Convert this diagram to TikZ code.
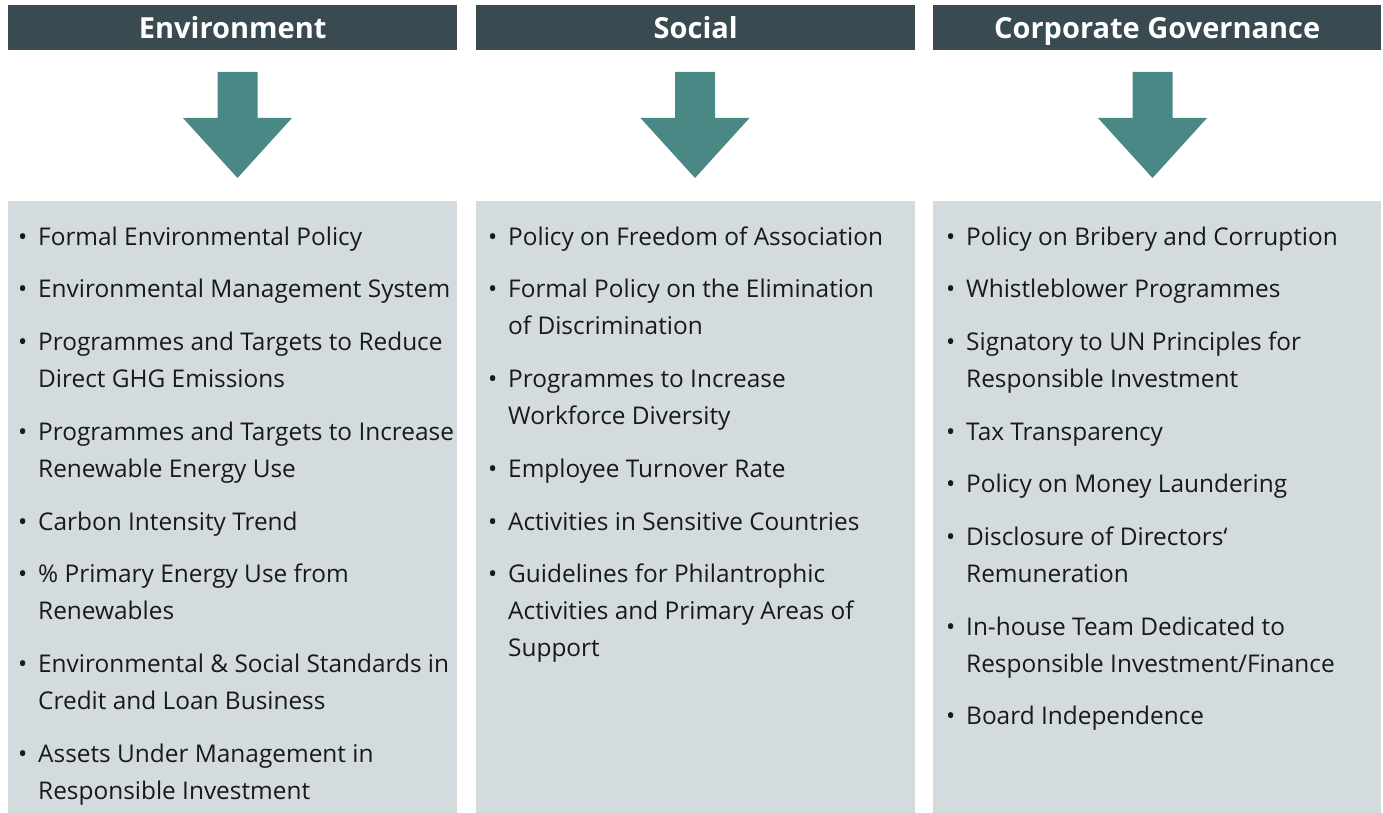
\documentclass[tikz,border=0pt]{standalone}
\usepackage{fontspec}
\setmainfont{Open Sans}
\definecolor{headbg}{HTML}{394B51}
\definecolor{arrowfill}{HTML}{4A8885}
\definecolor{panelbg}{HTML}{D3DBDF}
\tikzset{
  head/.style={fill=headbg, text=white, font=\bfseries\fontsize{29}{32}\selectfont,
    minimum height=45pt, inner sep=0pt, text height=24pt, text depth=2pt, anchor=north west},
  panel/.style={fill=panelbg, minimum height=613pt, inner sep=0pt, anchor=north west},
  item/.style={anchor=base west, align=left, inner sep=0pt, text=black!90,
    font=\fontsize{24.4}{37}\selectfont},
}
\newcommand{\bul}{\hspace*{0pt}\llap{\textbullet\hspace{11pt}}}
\begin{document}
\begin{tikzpicture}[x=1pt,y=-1pt]
  \useasboundingbox (0,0) rectangle (1383,813);
  % headers
  \node[head, minimum width=449pt] (envhead) at (8,5) {Environment};
  \node[head, minimum width=439pt] (sochead) at (476,5) {Social};
  \node[head, minimum width=448pt] (govhead) at (933,5) {Corporate Governance};
  % arrows
  \foreach \cx in {237.5,695,1152.5}
    \fill[arrowfill] (\cx-20,72) -- (\cx+20,72) -- (\cx+20,118) -- (\cx+54.5,118)
      -- (\cx,178) -- (\cx-54.5,118) -- (\cx-20,118) -- cycle;
  % panels
  \node[panel, minimum width=449pt] (envbox) at (8,201) {};
  \node[panel, minimum width=439pt] (socbox) at (476,201) {};
  \node[panel, minimum width=448pt] (govbox) at (933,201) {};
  % environment (anchored at the last line)
  \node[item] (env1) at (38,245) {\bul Formal Environmental Policy};
  \node[item] (env2) at (38,297) {\bul Environmental Management System};
  \node[item] (env3) at (38,387) {\bul Programmes and Targets to Reduce\\Direct GHG Emissions};
  \node[item] (env4) at (38,477) {\bul Programmes and Targets to Increase\\Renewable Energy Use};
  \node[item] (env5) at (38,530) {\bul Carbon Intensity Trend};
  \node[item] (env6) at (38,619) {\bul \% Primary Energy Use from\\Renewables};
  \node[item] (env7) at (38,709) {\bul Environmental \& Social Standards in\\Credit and Loan Business};
  \node[item] (env8) at (38,799) {\bul Assets Under Management in\\Responsible Investment};
  % social
  \node[item] (soc1) at (508,245) {\bul Policy on Freedom of Association};
  \node[item] (soc2) at (508,334) {\bul Formal Policy on the Elimination\\of Discrimination};
  \node[item] (soc3) at (508,424) {\bul Programmes to Increase\\Workforce Diversity};
  \node[item] (soc4) at (508,477) {\bul Employee Turnover Rate};
  \node[item] (soc5) at (508,530) {\bul Activities in Sensitive Countries};
  \node[item] (soc6) at (508,656) {\bul Guidelines for Philantrophic\\Activities and Primary Areas of\\Support};
  % governance
  \node[item] (gov1) at (966,245) {\bul Policy on Bribery and Corruption};
  \node[item] (gov2) at (966,297) {\bul Whistleblower Programmes};
  \node[item] (gov3) at (966,387) {\bul Signatory to UN Principles for\\Responsible Investment};
  \node[item] (gov4) at (966,440) {\bul Tax Transparency};
  \node[item] (gov5) at (966,492) {\bul Policy on Money Laundering};
  \node[item] (gov6) at (966,582) {\bul Disclosure of Directors‘\\Remuneration};
  \node[item] (gov7) at (966,672) {\bul In-house Team Dedicated to\\Responsible Investment/Finance};
  \node[item] (gov8) at (966,724) {\bul Board Independence};
\end{tikzpicture}
\end{document}
